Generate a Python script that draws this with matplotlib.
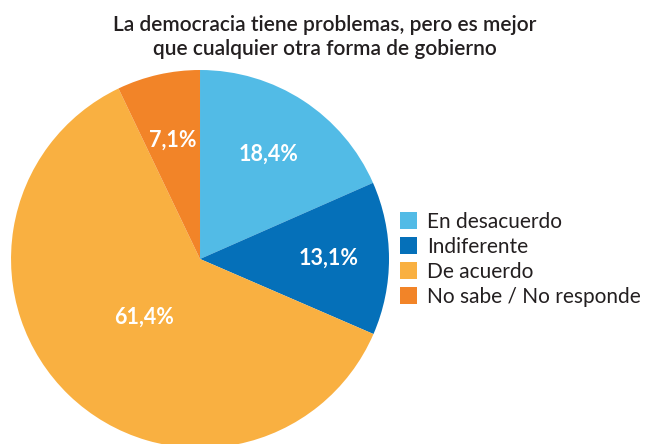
import matplotlib
matplotlib.use("Agg")
import matplotlib.pyplot as plt
import numpy as np

# data
labels = ["En desacuerdo", "Indiferente", "De acuerdo", "No sabe / No responde"]
values = [18.4, 13.1, 61.4, 7.1]
pct_text = ["18,4%", "13,1%", "61,4%", "7,1%"]
colors = ["#52BBE6", "#0570B9", "#F9B041", "#F28428"]
label_dist = [0.66, 0.68, 0.43, 0.645]

title = "La democracia tiene problemas, pero es mejor\nque cualquier otra forma de gobierno"

plt.rcParams["font.family"] = ["Lato", "DejaVu Sans"]

fig = plt.figure(figsize=(6.49, 4.44), dpi=100)
ax = fig.add_axes([0.0170, -0.0090, 0.5824, 0.8514])

wedges, _ = ax.pie(values, colors=colors, startangle=90, counterclock=False,
                   radius=1.0, wedgeprops=dict(linewidth=0))
ax.set_xlim(-1, 1)
ax.set_ylim(-1, 1)
ax.set_aspect("equal")
ax.axis("off")

for w, txt, d in zip(wedges, pct_text, label_dist):
    ang = np.deg2rad((w.theta1 + w.theta2) / 2)
    ax.text(d * np.cos(ang), d * np.sin(ang), txt, ha="center", va="center",
            color="white", fontsize=15.5, fontweight="bold")

fig.text(0.501, 0.917, title, ha="center", va="center", fontsize=15,
         fontweight="semibold", color="#231F20", linespacing=1.22)

leg = fig.legend(wedges, labels, loc="center left", bbox_to_anchor=(0.616, 0.416),
                 frameon=False, fontsize=15, handlelength=0.82, handleheight=0.82,
                 handletextpad=0.48, labelspacing=0.24, borderpad=0,
                 borderaxespad=0)
for t in leg.get_texts():
    t.set_color("#231F20")

fig.savefig("out.png", dpi=100)
